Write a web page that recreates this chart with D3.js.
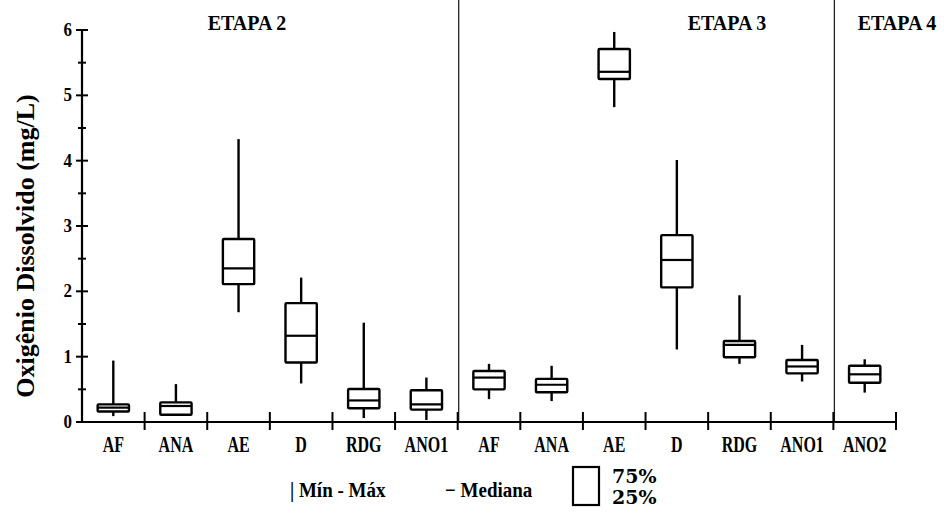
<!DOCTYPE html>
<meta charset="utf-8" />
<script src="https://d3js.org/d3.v7.min.js"></script>
<style>
  body { margin: 0; background: #fff; }
  text { font-family: "Liberation Serif", "DejaVu Serif", serif; font-weight: 700; fill: #000; }
</style>
<body>
<div id="chart"></div>
<script>
// categories, one per box (labels repeat across stages)
const categories = ["AF", "ANA", "AE", "D", "RDG", "ANO1", "AF", "ANA", "AE", "D", "RDG", "ANO1", "ANO2"];
const stages = ["ETAPA 2", "ETAPA 2", "ETAPA 2", "ETAPA 2", "ETAPA 2", "ETAPA 2",
  "ETAPA 3", "ETAPA 3", "ETAPA 3", "ETAPA 3", "ETAPA 3", "ETAPA 3", "ETAPA 4"];
const minValues    = [0.09, 0.11, 1.68, 0.59, 0.06, 0.03, 0.35, 0.32, 4.82, 1.11, 0.89, 0.62, 0.45];
const q1Values     = [0.16, 0.11, 2.11, 0.91, 0.21, 0.19, 0.50, 0.455, 5.25, 2.06, 0.99, 0.745, 0.60];
const medianValues = [0.22, 0.245, 2.35, 1.32, 0.33, 0.27, 0.68, 0.57, 5.36, 2.48, 1.18, 0.85, 0.73];
const q3Values     = [0.27, 0.30, 2.80, 1.82, 0.505, 0.485, 0.78, 0.66, 5.71, 2.86, 1.24, 0.95, 0.86];
const maxValues    = [0.94, 0.58, 4.33, 2.21, 1.52, 0.68, 0.89, 0.86, 5.97, 4.01, 1.94, 1.18, 0.96];
const yTicks = [0, 1, 2, 3, 4, 5, 6];
const yMinorTicks = [0.5, 1.5, 2.5, 3.5, 4.5, 5.5];

const width = 944, height = 513;
const mLeft = 82, mRight = 896, mTop = 30, mBottom = 422;

const svg = d3.select("#chart").append("svg")
  .attr("width", width).attr("height", height);

const idx = categories.map((d, i) => String(i));
const x = d3.scaleBand().domain(idx).range([mLeft, mRight]).padding(0);
const y = d3.scaleLinear().domain([0, 6]).range([mBottom, mTop]);

// stretched text helper (the source text is taller than wide)
function label(g, str, px, py, size, sy, anchor) {
  return g.append("text")
    .attr("transform", `translate(${px},${py}) scale(1,${sy})`)
    .attr("text-anchor", anchor || "middle")
    .attr("font-size", size + "px")
    .text(str);
}

// stage separators
const breaks = [];
for (let i = 1; i < stages.length; i++) if (stages[i] !== stages[i - 1]) breaks.push(i);
svg.selectAll(".sep").data(breaks).enter().append("line")
  .attr("x1", d => x(String(d)) + 1).attr("x2", d => x(String(d)) + 1)
  .attr("y1", 0).attr("y2", mBottom)
  .attr("stroke", "#222").attr("stroke-width", 1.3);

// stage titles
const titlePos = [[247, "ETAPA 2"], [727, "ETAPA 3"], [897, "ETAPA 4"]];
titlePos.forEach(t => label(svg, t[1], t[0], 30, 20, 1.1));

// y axis
svg.append("line").attr("x1", mLeft).attr("x2", mLeft).attr("y1", mTop).attr("y2", mBottom)
  .attr("stroke", "#000").attr("stroke-width", 2.2);
svg.selectAll(".ytick").data(yTicks).enter().append("line")
  .attr("x1", mLeft - 6).attr("x2", mLeft + 6)
  .attr("y1", d => y(d)).attr("y2", d => y(d))
  .attr("stroke", "#000").attr("stroke-width", 2);
svg.selectAll(".yminor").data(yMinorTicks).enter().append("line")
  .attr("x1", mLeft - 4).attr("x2", mLeft + 4)
  .attr("y1", d => y(d)).attr("y2", d => y(d))
  .attr("stroke", "#000").attr("stroke-width", 2);
yTicks.forEach(t => label(svg, String(t), 72, y(t) + 6, 17, 1.15, "end"));

// y title
svg.append("text")
  .attr("transform", `translate(34,${(mTop + mBottom) / 2 + 20}) rotate(-90)`)
  .attr("text-anchor", "middle")
  .attr("font-size", "26px")
  .text("Oxigênio Dissolvido (mg/L)");

// x axis
svg.append("line").attr("x1", mLeft).attr("x2", mRight).attr("y1", mBottom).attr("y2", mBottom)
  .attr("stroke", "#000").attr("stroke-width", 2.2);
const bounds = d3.range(1, categories.length + 1);
svg.selectAll(".xtick").data(bounds).enter().append("line")
  .attr("x1", d => d < categories.length ? x(String(d)) : mRight)
  .attr("x2", d => d < categories.length ? x(String(d)) : mRight)
  .attr("y1", mBottom - 10).attr("y2", mBottom + 8)
  .attr("stroke", "#000").attr("stroke-width", 2);
categories.forEach((c, i) => label(svg, c, x(String(i)) + x.bandwidth() / 2, 452, 16, 1.4));

// boxes
const bw = x.bandwidth() * 0.5;
const boxes = svg.selectAll(".box").data(idx).enter().append("g")
  .attr("transform", d => `translate(${x(d) + x.bandwidth() / 2},0)`);
boxes.append("line")
  .attr("y1", d => y(maxValues[+d])).attr("y2", d => y(q3Values[+d]))
  .attr("stroke", "#000").attr("stroke-width", 2.4);
boxes.append("line")
  .attr("y1", d => y(q1Values[+d])).attr("y2", d => y(minValues[+d]))
  .attr("stroke", "#000").attr("stroke-width", 2.4);
boxes.append("rect")
  .attr("x", -bw / 2).attr("width", bw)
  .attr("y", d => y(q3Values[+d]))
  .attr("height", d => y(q1Values[+d]) - y(q3Values[+d]))
  .attr("rx", 1)
  .attr("fill", "#fff").attr("stroke", "#000").attr("stroke-width", 2.4);
boxes.append("line")
  .attr("x1", -bw / 2).attr("x2", bw / 2)
  .attr("y1", d => y(medianValues[+d])).attr("y2", d => y(medianValues[+d]))
  .attr("stroke", "#000").attr("stroke-width", 2.2);

// legend
const lg = svg.append("g");
label(lg, "| Mín - Máx", 290, 497, 19, 1.1, "start");
label(lg, "− Mediana", 445, 497, 19, 1.1, "start");
lg.append("rect").attr("x", 573).attr("y", 467).attr("width", 26).attr("height", 38)
  .attr("fill", "none").attr("stroke", "#000").attr("stroke-width", 2.2);
lg.append("text").attr("x", 612).attr("y", 483).attr("font-size", "19px")
  .style("font-family", "'DejaVu Serif', serif").style("font-weight", "600").text("75%");
lg.append("text").attr("x", 612).attr("y", 504).attr("font-size", "19px")
  .style("font-family", "'DejaVu Serif', serif").style("font-weight", "600").text("25%");
</script>
</body>
